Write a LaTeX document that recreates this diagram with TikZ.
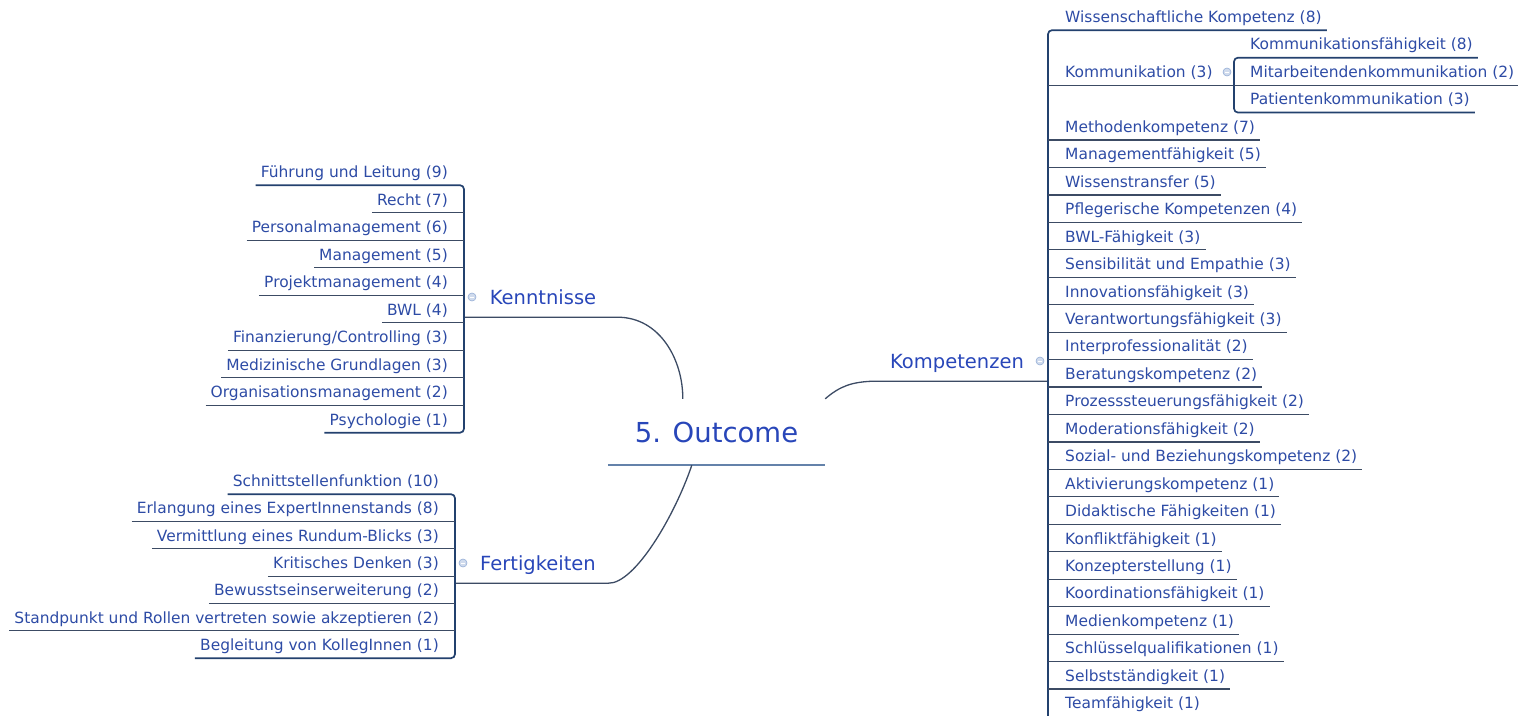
\documentclass[tikz,border=0pt]{standalone}
\usepackage{fontspec}
\setmainfont{DejaVu Sans}
\usepackage{xcolor}
\usetikzlibrary{positioning, calc}
\definecolor{leafblue}{RGB}{45,75,165}
\definecolor{topicblue}{RGB}{40,70,185}
\definecolor{stemblue}{RGB}{35,65,110}
\definecolor{twiggray}{RGB}{60,75,100}
\definecolor{hubgray}{RGB}{100,130,170}
\definecolor{foldblue}{RGB}{150,175,215}
\tikzset{
	leaf/.style={font=\fontsize{15.45}{18}\selectfont, text=leafblue, inner xsep=5pt, inner ysep=3.5pt, text height=11pt, text depth=4pt},
	topic/.style={font=\fontsize{19.5}{23}\selectfont, text=topicblue, inner sep=0pt, minimum height=40pt, text height=14pt, text depth=0pt},
	hub/.style={font=\fontsize{27.5}{33}\selectfont, text=topicblue, inner sep=0pt, minimum width=217pt, minimum height=66pt, text height=20pt, text depth=0pt},
	stem/.style={draw=stemblue, line width=1.7pt, rounded corners=4pt},
	twig/.style={draw=twiggray, line width=1.2pt},
	bough/.style={draw=twiggray, line width=1.3pt},
	fold/.style={circle, draw=foldblue, fill=foldblue!45, line width=0.6pt, minimum size=8pt, inner sep=0pt,
		path picture={\draw[white, line width=0.8pt] ([xshift=-2pt]path picture bounding box.center) -- ([xshift=2pt]path picture bounding box.center);}}
}
\begin{document}
\begin{tikzpicture}[x=1pt, y=-1pt]
	\useasboundingbox (0,0) rectangle (1518,715);
	\clip (0,0) rectangle (1518,715);
	\coordinate (lv) at (464,0);
	\coordinate (fv) at (455,0);
	\coordinate (kv) at (1048,0);
	\coordinate (kb) at (1048,716);
	\coordinate (ks) at (1234,0);
	\node[hub] (oc) at (716.5,432) {5. Outcome};
	\draw[draw=hubgray, line width=2pt] (oc.south west) -- (oc.south east);
	\node[topic, minimum width=148pt] (kn) at (543,297) {Kenntnisse};
	\node[topic, minimum width=140pt] (ft) at (538,563) {Fertigkeiten};
	\node[topic, minimum width=168pt] (kp) at (957,361) {Kompetenzen};
	\draw[bough] (lv |- kn.south) -- (kn.south east) .. controls (660,317) and (683,360) .. ([xshift=75pt]oc.north west);
	\draw[bough] (fv |- ft.south) -- (ft.south east) .. controls (635,584) and (675,515) .. ([xshift=84pt]oc.south west);
	\draw[bough] (oc.north east) .. controls (840,386) and (852,382) .. (kp.south west) -- (kv |- kp.south);
	\foreach \t [count=\i from 0] in {Führung und Leitung (9), Recht (7), Personalmanagement (6), Management (5), Projektmanagement (4), BWL (4), Finanzierung/Controlling (3), Medizinische Grundlagen (3), Organisationsmanagement (2), Psychologie (1)}
		\node[leaf, anchor=base east] (kn\i) at (453,{177.5+27.5*\i}) {\t};
	\draw[stem] (kn0.south west) -| (lv |- kn9.south) -- (kn9.south west);
	\foreach \i in {1,...,8}
		\draw[twig] (kn\i.south west) -- (lv |- kn\i.south);
	\foreach \t [count=\i from 0] in {Schnittstellenfunktion (10), Erlangung eines ExpertInnenstands (8), Vermittlung eines Rundum-Blicks (3), Kritisches Denken (3), Bewusstseinserweiterung (2), Standpunkt und Rollen vertreten sowie akzeptieren (2), Begleitung von KollegInnen (1)}
		\node[leaf, anchor=base east] (ft\i) at (444,{486.5+27.33*\i}) {\t};
	\draw[stem] (ft0.south west) -| (fv |- ft6.south) -- (ft6.south west);
	\foreach \i in {1,...,5}
		\draw[twig] (ft\i.south west) -- (fv |- ft\i.south);
	\node[leaf, anchor=base west] (kp0) at (1060,22.5) {Wissenschaftliche Kompetenz (8)};
	\node[leaf, anchor=base west] (kp2) at (1060,77.4) {Kommunikation (3)};
	\foreach \t [count=\i from 4] in {Methodenkompetenz (7), Managementfähigkeit (5), Wissenstransfer (5), Pflegerische Kompetenzen (4), BWL-Fähigkeit (3), Sensibilität und Empathie (3), Innovationsfähigkeit (3), Verantwortungsfähigkeit (3), Interprofessionalität (2), Beratungskompetenz (2), Prozesssteuerungsfähigkeit (2), Moderationsfähigkeit (2), Sozial- und Beziehungskompetenz (2), Aktivierungskompetenz (1), Didaktische Fähigkeiten (1), Konfliktfähigkeit (1), Konzepterstellung (1), Koordinationsfähigkeit (1), Medienkompetenz (1), Schlüsselqualifikationen (1), Selbstständigkeit (1), Teamfähigkeit (1)}
		\node[leaf, anchor=base west] (kp\i) at (1060,{22.5+27.45*\i}) {\t};
	\draw[stem] (kp0.south east) -| (kb);
	\foreach \i in {4,...,25}
		\draw[twig] (kv |- kp\i.south) -- (kp\i.south east);
	\draw[twig] (kv |- kp2.south) -- (ks |- kp2.south);
	\foreach \t [count=\i] in {Kommunikationsfähigkeit (8), Mitarbeitendenkommunikation (2), Patientenkommunikation (3)}
		\node[leaf, anchor=base west] (km\i) at (1245,{22.5+27.45*\i}) {\t};
	\draw[stem] (km1.south east) -| (ks |- km3.south) -- (km3.south east);
	\draw[twig] (ks |- km2.south) -- (km2.south east);
	\node[fold] (kn-f) at (472,297) {};
	\node[fold] (ft-f) at (463,563) {};
	\node[fold] (kp-f) at (1040,361) {};
	\node[fold] (kp2-f) at (1227,72) {};
\end{tikzpicture}
\end{document}
